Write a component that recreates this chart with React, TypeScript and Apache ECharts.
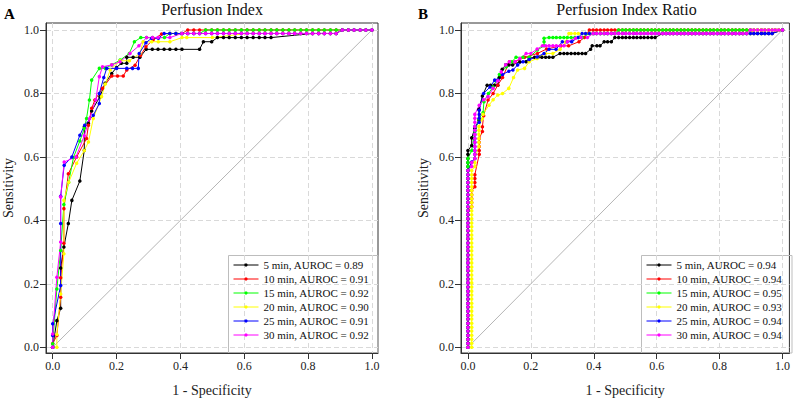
import React, { useEffect, useRef } from "react";
import * as echarts from "echarts";

const FONT = "'Liberation Serif', 'Times New Roman', serif";

const TICKS = [0, 0.2, 0.4, 0.6, 0.8, 1.0];
const PANEL_TITLES = ["Perfusion Index", "Perfusion Index Ratio"];
const PANEL_LETTERS = ["A", "B"];
const X_NAME = "1 - Specificity";
const Y_NAME = "Sensitivity";
const COLORS = ["#000000", "#ff0000", "#00ff00", "#ffff00", "#0000ff", "#ff00ff"];
const LEFT_NAMES = [
  "5 min, AUROC = 0.89",
  "10 min, AUROC = 0.91",
  "15 min, AUROC = 0.92",
  "20 min, AUROC = 0.90",
  "25 min, AUROC = 0.91",
  "30 min, AUROC = 0.92",
];
const RIGHT_NAMES = [
  "5 min, AUROC = 0.94",
  "10 min, AUROC = 0.94",
  "15 min, AUROC = 0.95",
  "20 min, AUROC = 0.93",
  "25 min, AUROC = 0.94",
  "30 min, AUROC = 0.94",
];

// observed positions of the dots along horizontal runs (1 - specificity)
const LEFT_RUN_FPR = [
  0.2, 0.219, 0.237, 0.256, 0.274, 0.293, 0.312, 0.33, 0.349, 0.367, 0.386, 0.405, 0.423, 0.442,
  0.46, 0.479, 0.498, 0.516, 0.535, 0.553, 0.572, 0.591, 0.609, 0.628, 0.647, 0.665, 0.684, 0.702,
  0.721, 0.74, 0.758, 0.777, 0.795, 0.814, 0.833, 0.851, 0.87, 0.888, 0.907, 0.926, 0.944, 0.963,
  0.981, 1.0,
];
const RIGHT_RUN_FPR = [
  0.2, 0.212, 0.223, 0.235, 0.247, 0.258, 0.27, 0.281, 0.293, 0.305, 0.316, 0.328, 0.34, 0.351,
  0.363, 0.374, 0.386, 0.398, 0.409, 0.421, 0.433, 0.444, 0.456, 0.467, 0.479, 0.491, 0.502, 0.514,
  0.526, 0.537, 0.549, 0.56, 0.572, 0.584, 0.595, 0.607, 0.619, 0.63, 0.642, 0.653, 0.665, 0.677,
  0.688, 0.7, 0.712, 0.723, 0.735, 0.747, 0.758, 0.77, 0.781, 0.793, 0.805, 0.816, 0.828, 0.84,
  0.851, 0.863, 0.874, 0.886, 0.898, 0.909, 0.921, 0.933, 0.944, 0.956, 0.967, 0.977, 0.988, 1.0,
];
// observed positions of the dots along vertical runs (sensitivity), right panel
const RIGHT_COL_TPR = [
  0, 0.013, 0.025, 0.038, 0.051, 0.063, 0.076, 0.089, 0.101, 0.114, 0.127, 0.139, 0.152, 0.165,
  0.177, 0.19, 0.203, 0.215, 0.228, 0.241, 0.253, 0.266, 0.278, 0.291, 0.304, 0.316, 0.329, 0.342,
  0.354, 0.367, 0.38, 0.392, 0.405, 0.418, 0.43, 0.443, 0.456, 0.468, 0.481, 0.494, 0.506, 0.519,
  0.532, 0.544, 0.557, 0.57, 0.582, 0.595, 0.608, 0.62, 0.633, 0.646, 0.658, 0.671, 0.684, 0.696,
  0.709, 0.722, 0.734, 0.747,
];

type P = [number, number];
const run = (grid: number[], from: number, to: number, tpr: number): P[] =>
  grid.filter((f) => f >= from - 1e-9 && f <= to + 1e-9).map((f) => [f, tpr] as P);
const col = (grid: number[], fpr: number, from: number, to: number): P[] =>
  grid.filter((t) => t >= from - 1e-9 && t <= to + 1e-9).map((t) => [fpr, t] as P);

// ---- Left panel: Perfusion Index ----
const L5: P[] = [
  [0, 0], [0.013, 0.084], [0.025, 0.123], [0.025, 0.25], [0.035, 0.316], [0.049, 0.39],
  [0.06, 0.463], [0.085, 0.524], [0.099, 0.621], [0.099, 0.695], [0.112, 0.705], [0.122, 0.745],
  [0.148, 0.79], [0.164, 0.832], [0.185, 0.863], [0.2, 0.882], [0.215, 0.895], [0.232, 0.895],
  [0.232, 0.914], [0.252, 0.914], [0.273, 0.914], [0.293, 0.939], [0.312, 0.939], [0.33, 0.939],
  [0.349, 0.939], [0.367, 0.939], [0.386, 0.939], [0.405, 0.939], [0.46, 0.939], [0.472, 0.963],
  [0.498, 0.963],
  ...run(LEFT_RUN_FPR, 0.516, 0.684, 0.976),
  ...run(LEFT_RUN_FPR, 0.814, 0.888, 0.989),
  ...run(LEFT_RUN_FPR, 0.907, 1, 1),
];
const L10: P[] = [
  [0, 0], [0, 0.012], [0.013, 0.037], [0.025, 0.158], [0.025, 0.219], [0.035, 0.328],
  [0.035, 0.437], [0.049, 0.547], [0.075, 0.6], [0.106, 0.658], [0.112, 0.7], [0.122, 0.753],
  [0.132, 0.779], [0.156, 0.816], [0.185, 0.855], [0.203, 0.855], [0.221, 0.855], [0.232, 0.874],
  [0.258, 0.889], [0.275, 0.92], [0.292, 0.947], [0.315, 0.97], [0.341, 0.987],
  ...run(LEFT_RUN_FPR, 0.36, 0.41, 0.989),
  ...run(LEFT_RUN_FPR, 0.42, 1, 1),
];
const L15: P[] = [
  [0, 0], [0, 0.011], [0.013, 0.184], [0.025, 0.305], [0.035, 0.45], [0.05, 0.52],
  [0.065, 0.598], [0.085, 0.65], [0.099, 0.69], [0.106, 0.721], [0.115, 0.779], [0.122, 0.842],
  [0.146, 0.879], [0.165, 0.879], [0.185, 0.89], [0.211, 0.905], [0.24, 0.926], [0.256, 0.963],
  [0.276, 0.976], [0.294, 0.976], [0.313, 0.976], [0.35, 0.976],
  ...run(LEFT_RUN_FPR, 0.367, 0.46, 0.989),
  ...run(LEFT_RUN_FPR, 0.479, 1, 1),
];
const L20: P[] = [
  [0, 0], [0.013, 0], [0.013, 0.04], [0.025, 0.168], [0.035, 0.295], [0.035, 0.463],
  [0.05, 0.52], [0.075, 0.58], [0.099, 0.62], [0.112, 0.647], [0.127, 0.721], [0.153, 0.79],
  [0.165, 0.83], [0.18, 0.874], [0.211, 0.903], [0.24, 0.903], [0.273, 0.926], [0.283, 0.963],
  [0.31, 0.963], [0.331, 0.963], [0.367, 0.963], [0.405, 0.976], [0.42, 0.976], [0.5, 0.976],
  ...run(LEFT_RUN_FPR, 0.6, 0.888, 0.989),
  ...run(LEFT_RUN_FPR, 0.907, 1, 1),
];
const L25: P[] = [
  [0, 0], [0, 0.037], [0, 0.074], [0.025, 0.195], [0.025, 0.39], [0.025, 0.476],
  [0.036, 0.574], [0.06, 0.6], [0.085, 0.668], [0.1, 0.7], [0.127, 0.731], [0.146, 0.768],
  [0.146, 0.8], [0.16, 0.85], [0.169, 0.879], [0.2, 0.879], [0.232, 0.879], [0.25, 0.879],
  [0.268, 0.879], [0.271, 0.926], [0.292, 0.96], [0.31, 0.974], [0.331, 0.974],
  ...run(LEFT_RUN_FPR, 0.349, 0.888, 0.989),
  ...run(LEFT_RUN_FPR, 0.907, 1, 1),
];
const L30: P[] = [
  [0, 0], [0, 0.042], [0.013, 0.221], [0.025, 0.332], [0.025, 0.474], [0.036, 0.584],
  [0.073, 0.6], [0.099, 0.667], [0.115, 0.72], [0.135, 0.78], [0.146, 0.853], [0.156, 0.884],
  [0.185, 0.89], [0.211, 0.9], [0.242, 0.926], [0.27, 0.95], [0.294, 0.976], [0.313, 0.976],
  [0.33, 0.976], [0.367, 0.976],
  ...run(LEFT_RUN_FPR, 0.405, 0.888, 0.989),
  ...run(LEFT_RUN_FPR, 0.907, 1, 1),
];

// ---- Right panel: Perfusion Index Ratio ----
const R5: P[] = [
  ...col(RIGHT_COL_TPR, 0, 0, 0.62),
  [0.012, 0.636], [0.012, 0.66], [0.022, 0.69], [0.035, 0.716], [0.035, 0.75], [0.046, 0.792],
  [0.061, 0.826], [0.072, 0.826], [0.084, 0.826], [0.095, 0.826], [0.1, 0.85], [0.109, 0.876],
  [0.12, 0.89], [0.13, 0.89], [0.142, 0.89], [0.165, 0.9], [0.185, 0.9], [0.195, 0.911],
  ...run(RIGHT_RUN_FPR, 0.212, 0.27, 0.914),
  ...run(RIGHT_RUN_FPR, 0.293, 0.374, 0.926),
  [0.39, 0.939], [0.395, 0.95], [0.41, 0.95], [0.42, 0.95], [0.433, 0.963], [0.444, 0.963],
  [0.456, 0.963],
  ...run(RIGHT_RUN_FPR, 0.467, 0.595, 0.976),
  ...run(RIGHT_RUN_FPR, 0.619, 0.967, 0.989),
  [1, 1],
];
const R10: P[] = [
  ...col(RIGHT_COL_TPR, 0, 0, 0.43),
  ...col(RIGHT_COL_TPR, 0.012, 0.443, 0.494),
  ...col(RIGHT_COL_TPR, 0.022, 0.506, 0.544),
  ...col(RIGHT_COL_TPR, 0.036, 0.608, 0.658),
  [0.046, 0.68], [0.046, 0.695], [0.05, 0.73], [0.064, 0.779], [0.08, 0.8], [0.095, 0.826],
  [0.11, 0.85], [0.132, 0.9], [0.15, 0.9], [0.18, 0.914], [0.221, 0.926], [0.25, 0.94],
  [0.295, 0.95], [0.32, 0.95], [0.353, 0.963], [0.37, 0.976],
  ...run(RIGHT_RUN_FPR, 0.386, 1, 1),
];
const R15: P[] = [
  ...col(RIGHT_COL_TPR, 0, 0, 0.6),
  [0.012, 0.62], [0.022, 0.68], [0.035, 0.72], [0.048, 0.739], [0.051, 0.774], [0.065, 0.8],
  [0.08, 0.82], [0.1, 0.86], [0.122, 0.884], [0.14, 0.9],
  [0.153, 0.914], [0.175, 0.914], [0.195, 0.914], [0.221, 0.937], [0.242, 0.95], [0.242, 0.963],
  [0.242, 0.974],
  ...run(RIGHT_RUN_FPR, 0.258, 0.363, 0.976),
  ...run(RIGHT_RUN_FPR, 0.386, 0.467, 0.989),
  ...run(RIGHT_RUN_FPR, 0.479, 1, 1),
];
const R20: P[] = [
  [0, 0],
  ...col(RIGHT_COL_TPR, 0.012, 0, 0.557),
  ...col(RIGHT_COL_TPR, 0.022, 0.57, 0.595),
  ...col(RIGHT_COL_TPR, 0.035, 0.633, 0.696),
  [0.046, 0.72], [0.048, 0.734], [0.067, 0.763], [0.08, 0.78], [0.095, 0.795], [0.11, 0.8],
  [0.13, 0.816], [0.145, 0.85], [0.158, 0.874], [0.18, 0.879], [0.195, 0.9], [0.22, 0.91],
  [0.247, 0.926], [0.27, 0.926], [0.293, 0.939], [0.311, 0.963], [0.321, 0.989],
  ...run(RIGHT_RUN_FPR, 0.328, 0.898, 0.989),
  ...run(RIGHT_RUN_FPR, 0.909, 1, 1),
];
const R25: P[] = [
  ...col(RIGHT_COL_TPR, 0, 0, 0.557),
  [0.012, 0.584],
  ...col(RIGHT_COL_TPR, 0.022, 0.595, 0.696),
  ...col(RIGHT_COL_TPR, 0.036, 0.709, 0.779),
  [0.05, 0.8], [0.07, 0.82], [0.085, 0.842], [0.095, 0.842], [0.11, 0.86], [0.13, 0.87],
  [0.143, 0.874], [0.158, 0.89], [0.175, 0.9], [0.195, 0.907], [0.22, 0.915], [0.242, 0.926],
  [0.258, 0.939], [0.28, 0.939], [0.3, 0.963], [0.316, 0.963], [0.33, 0.963], [0.35, 0.976],
  ...run(RIGHT_RUN_FPR, 0.363, 0.967, 0.989),
  [1, 1],
];
const R30: P[] = [
  ...col(RIGHT_COL_TPR, 0, 0, 0.557),
  [0.012, 0.57], [0.012, 0.582],
  ...col(RIGHT_COL_TPR, 0.022, 0.595, 0.734),
  [0.036, 0.763], [0.05, 0.78], [0.064, 0.79], [0.08, 0.816], [0.095, 0.84], [0.106, 0.868],
  [0.12, 0.89], [0.132, 0.9], [0.15, 0.9], [0.165, 0.91], [0.185, 0.926], [0.2, 0.926],
  [0.22, 0.94], [0.237, 0.95],
  ...run(RIGHT_RUN_FPR, 0.247, 0.305, 0.95),
  [0.316, 0.963], [0.342, 0.974], [0.36, 0.976], [0.38, 0.976],
  ...run(RIGHT_RUN_FPR, 0.398, 0.886, 0.989),
  ...run(RIGHT_RUN_FPR, 0.898, 1, 1),
];

const LEFT_CURVES = [L5, L10, L15, L20, L25, L30];
const RIGHT_CURVES = [R5, R10, R15, R20, R25, R30];
const DIAGONAL: P[] = [[0, 0], [1, 1]];

const TEXT = "#222";
const AXIS = "#333";

function buildOption(): any {
  const grids = [
    { left: 46, top: 23, width: 332, height: 330 },
    { left: 461, top: 23, width: 331, height: 330 },
  ].map((g) => ({ ...g, show: true, borderColor: AXIS, borderWidth: 1 }));

  const fmt = (v: number) => v.toFixed(1);
  const common = (idx: number) => ({
    type: "value",
    gridIndex: idx,
    nameLocation: "middle",
    nameTextStyle: { fontFamily: FONT, fontSize: 14, color: TEXT },
    axisLine: { show: true, onZero: false, lineStyle: { color: AXIS, width: 1 } },
    axisTick: { show: true, length: 6, customValues: TICKS, lineStyle: { color: AXIS } },
    axisLabel: { customValues: TICKS, formatter: fmt, margin: 7, fontFamily: FONT, fontSize: 12, color: TEXT },
    splitLine: { show: true, lineStyle: { color: "#d9d9d9", type: [5, 3], width: 1 } },
  });

  const xAxes = [
    { ...common(0), min: -0.021, max: 1.019, name: X_NAME, nameGap: 30 },
    { ...common(1), min: -0.022, max: 1.022, name: X_NAME, nameGap: 30 },
  ];
  const yAxes = [
    { ...common(0), min: -0.018, max: 1.022, name: Y_NAME, nameGap: 31 },
    { ...common(1), min: -0.018, max: 1.022, name: Y_NAME, nameGap: 31 },
  ];

  const series: any[] = [];
  [0, 1].forEach((idx) => {
    series.push({
      type: "line",
      name: "ref" + idx,
      xAxisIndex: idx,
      yAxisIndex: idx,
      data: DIAGONAL,
      showSymbol: false,
      symbol: "none",
      lineStyle: { color: "#b5b5b5", width: 1 },
      silent: true,
      z: 1,
    });
  });
  const addCurves = (curves: P[][], names: string[], idx: number) => {
    curves.forEach((data, i) => {
      series.push({
        type: "line",
        name: names[i],
        xAxisIndex: idx,
        yAxisIndex: idx,
        data,
        symbol: "circle",
        symbolSize: 3.5,
        showSymbol: true,
        showAllSymbol: true,
        lineStyle: { color: COLORS[i], width: 1 },
        itemStyle: { color: COLORS[i] },
        emphasis: { disabled: true },
        silent: true,
        z: 2,
      });
    });
  };
  addCurves(LEFT_CURVES, LEFT_NAMES, 0);
  addCurves(RIGHT_CURVES, RIGHT_NAMES, 1);

  const legendCommon = {
    orient: "vertical",
    top: 255,
    padding: [4, 5, 4, 5],
    itemWidth: 25,
    itemHeight: 4,
    itemGap: 2,
    selectedMode: false,
    lineStyle: { width: 1 },
    itemStyle: { borderWidth: 0 },
    textStyle: { fontFamily: FONT, fontSize: 11, color: "#111", lineHeight: 12 },
  };

  const graphic: any[] = [];
  const centers = [212, 626.5];
  const letterX = [4, 418];
  [0, 1].forEach((i) => {
    graphic.push({
      type: "text",
      x: centers[i],
      y: 9,
      silent: true,
      style: {
        text: PANEL_TITLES[i],
        fontFamily: FONT,
        fontSize: 16,
        fill: "#111",
        align: "center",
        verticalAlign: "middle",
      },
    });
    graphic.push({
      type: "text",
      x: letterX[i],
      y: 14,
      silent: true,
      style: {
        text: PANEL_LETTERS[i],
        fontFamily: FONT,
        fontSize: 15,
        fontWeight: "bold",
        fill: "#000",
        align: "left",
        verticalAlign: "middle",
      },
    });
  });
  graphic.push({
    type: "rect",
    silent: true,
    shape: { x: 228.5, y: 255.5, width: 149.5, height: 97.5 },
    style: { fill: "none", stroke: "#bdbdbd", lineWidth: 1 },
  });
  graphic.push({
    type: "rect",
    silent: true,
    shape: { x: 641.5, y: 255.5, width: 150.5, height: 97.5 },
    style: { fill: "none", stroke: "#bdbdbd", lineWidth: 1 },
  });

  return {
    animation: false,
    backgroundColor: "#ffffff",
    grid: grids,
    xAxis: xAxes,
    yAxis: yAxes,
    legend: [
      { ...legendCommon, left: 228, data: LEFT_NAMES },
      { ...legendCommon, left: 641, data: RIGHT_NAMES },
    ],
    graphic,
    series,
  };
}

export default function App() {
  const ref = useRef<HTMLDivElement>(null);
  useEffect(() => {
    if (!ref.current) return;
    const chart = echarts.init(ref.current, undefined, { renderer: "svg" });
    chart.setOption(buildOption());
    return () => chart.dispose();
  }, []);
  return (
    <div
      ref={ref}
      style={{ position: "absolute", left: 0, top: 0, width: 793, height: 402 }}
    />
  );
}
